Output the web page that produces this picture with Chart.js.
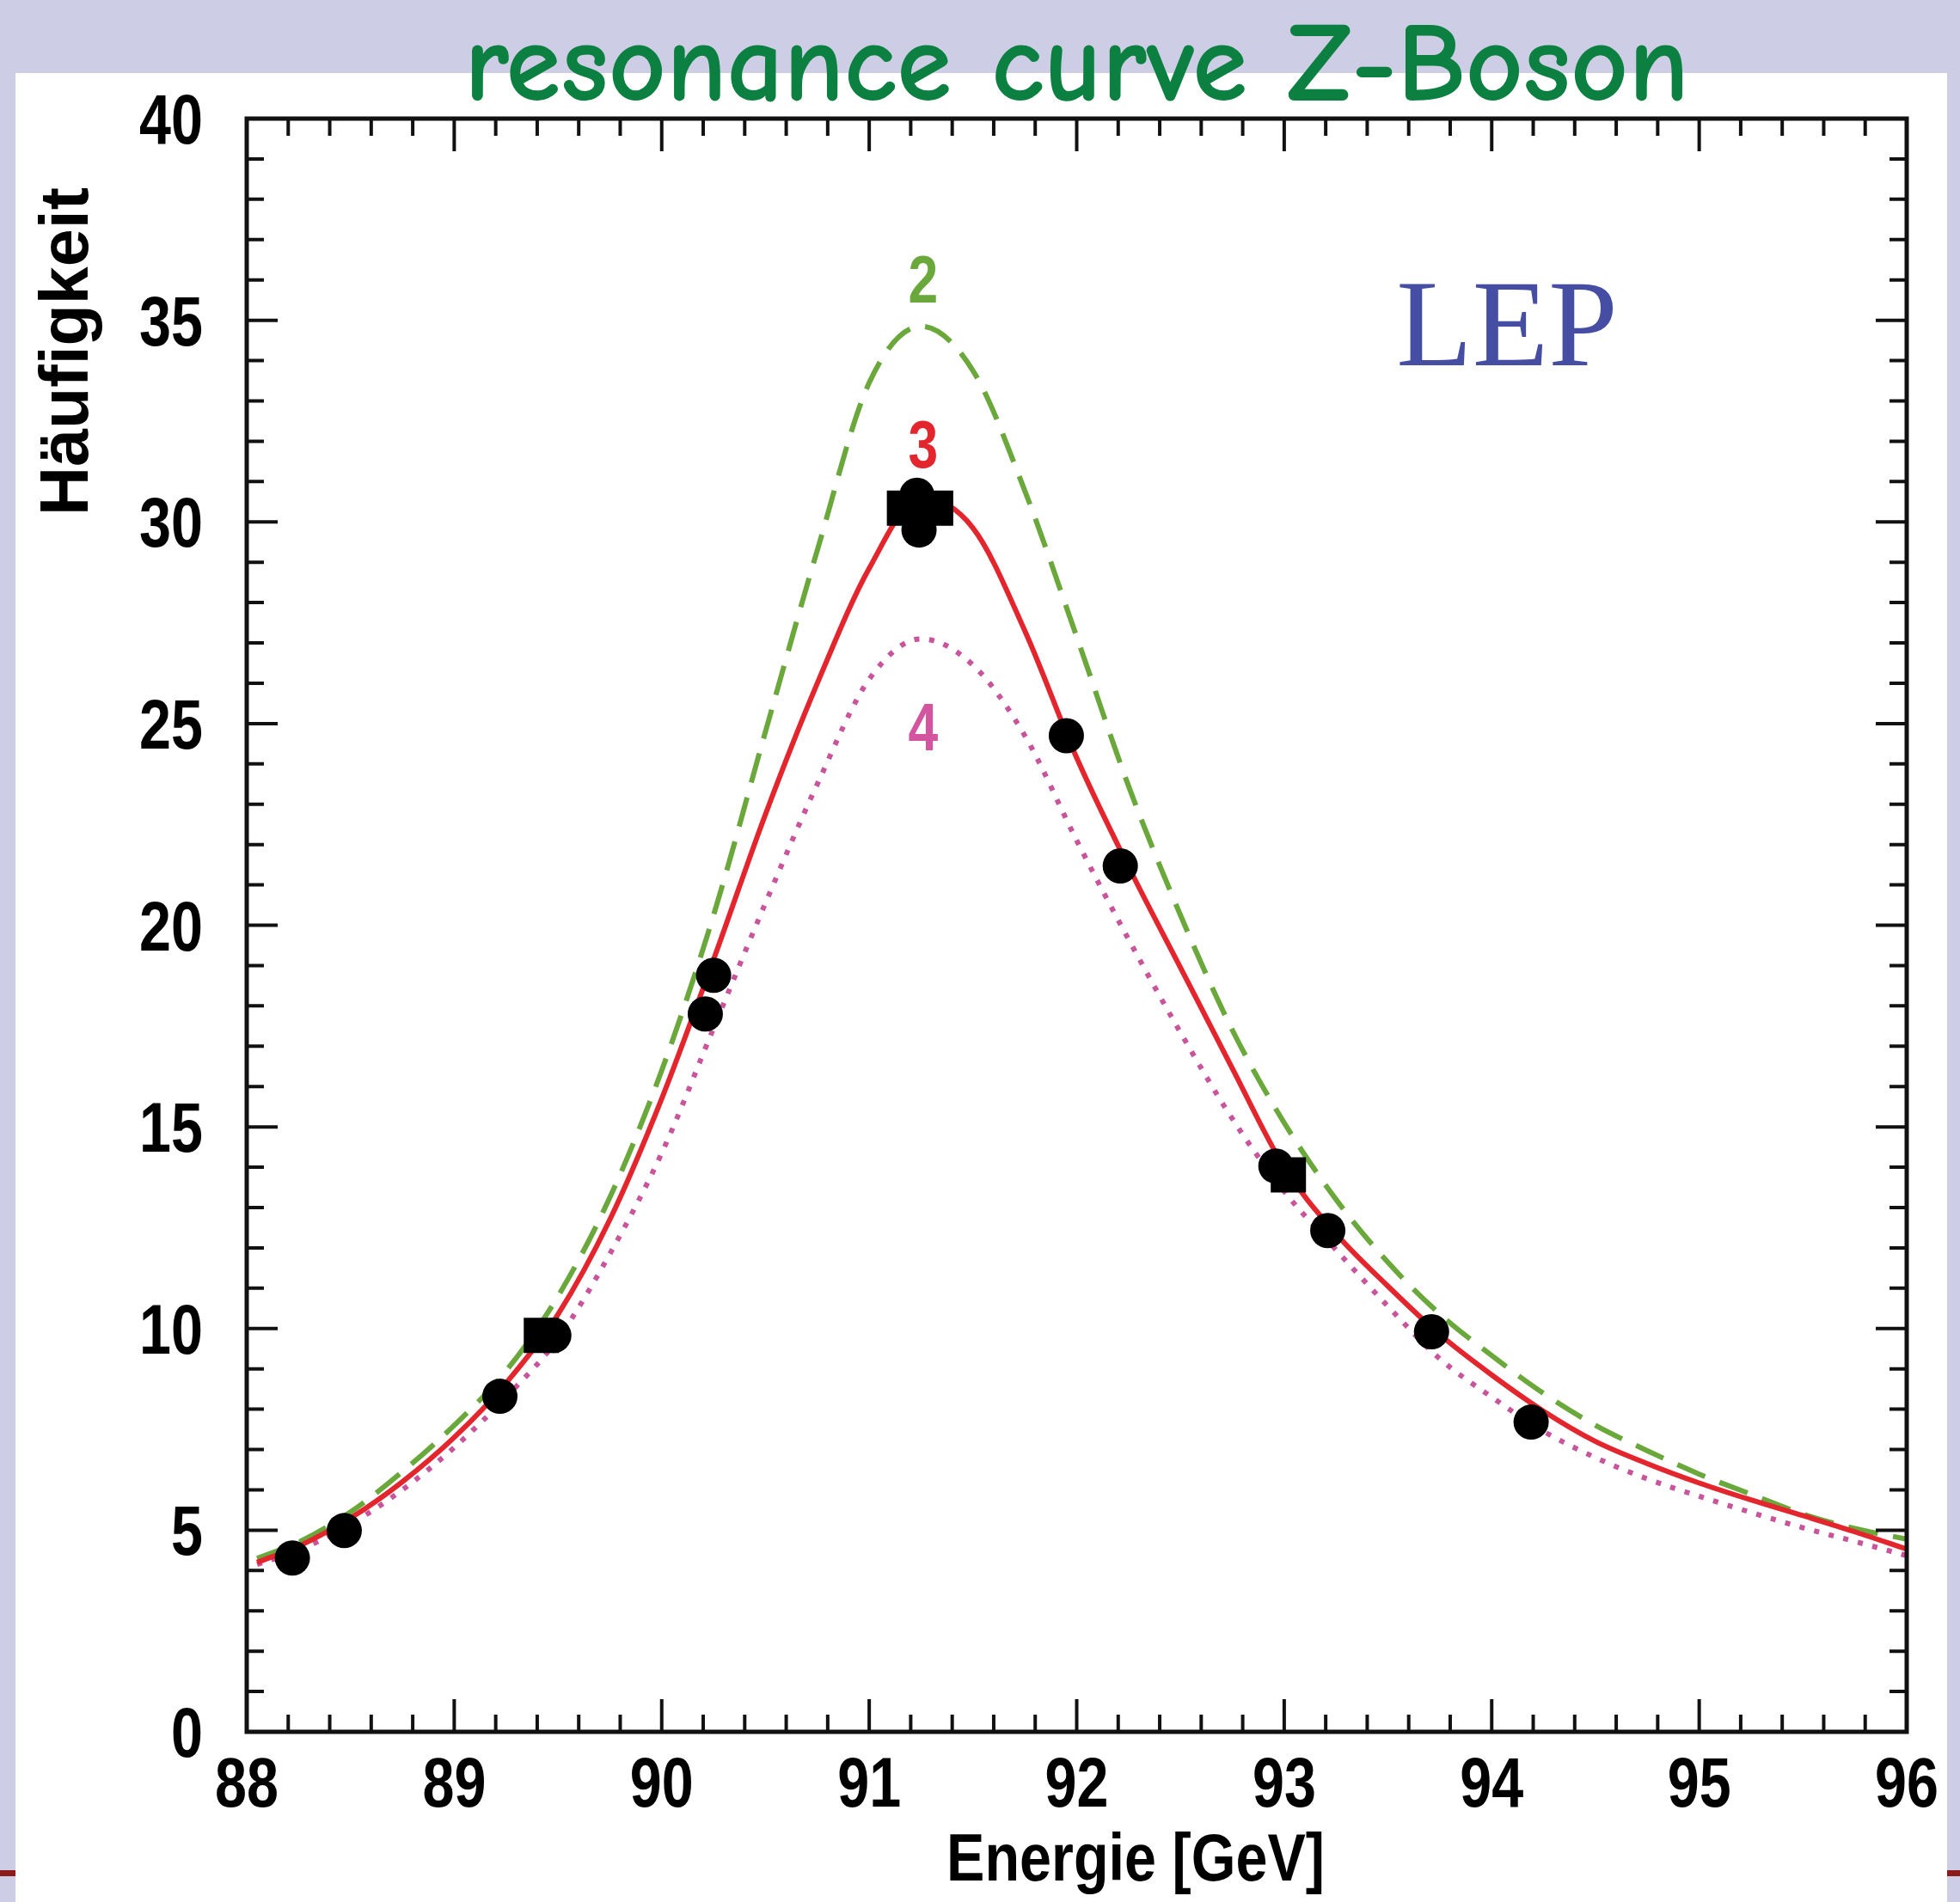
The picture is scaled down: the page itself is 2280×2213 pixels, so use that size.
<!DOCTYPE html>
<html>
<head>
<meta charset="utf-8">
<script src="https://cdn.jsdelivr.net/npm/chart.js@4.4.1/dist/chart.umd.min.js"></script>
<style>
  html, body { margin: 0; padding: 0; }
  body { background: #cdcde6; width: 2280px; height: 2213px; overflow: hidden; position: relative; }
  #rule { position: absolute; left: 0; top: 2176px; width: 2280px; height: 7px; background: #8c1c1c; }
  #panel { position: absolute; left: 18px; top: 85px; width: 2247px; height: 2128px; background: #fff; }
  #chart { position: absolute; left: 0; top: 0; }
</style>
</head>
<body>
<div id="rule"></div>
<div id="panel"></div>
<canvas id="chart" width="2280" height="2213"></canvas>
<script>
// Energie-Stützstellen der Kurven [GeV]
const energy = [88.05, 88.25, 88.5, 88.75, 89, 89.25, 89.5, 89.75, 90, 90.25, 90.5,
    90.75, 91, 91.25, 91.5, 91.75, 92, 92.25, 92.5, 92.75, 93, 93.25,
    93.5, 93.75, 94, 94.25, 94.5, 94.75, 95, 95.25, 95.5, 95.75, 96];

// Kurven für 2, 3 und 4 Neutrinosorten
const nu2 = [4.3, 4.7, 5.45, 6.45, 7.6, 8.95, 10.8, 13.25, 16.4, 20.25, 24.8,
    29.3, 33.45, 34.85, 33.75, 30.77, 27.15, 23.45, 20.25, 17.4, 15.1, 13.2,
    11.64, 10.36, 9.33, 8.39, 7.6, 6.97, 6.39, 5.89, 5.4, 5.04, 4.78];
const nu3 = [4.2, 4.6, 5.3, 6.2, 7.3, 8.65, 10.35, 12.7, 15.7, 19.15, 22.75,
    26.0, 28.85, 30.6, 29.85, 27.3, 24.15, 21.45, 18.95, 16.45, 14.0, 12.35,
    11.05, 9.85, 8.85, 7.95, 7.2, 6.65, 6.17, 5.75, 5.36, 4.96, 4.53];
const nu4 = [4.15, 4.5, 5.15, 6.0, 7.05, 8.3, 9.75, 11.85, 14.35, 17.45, 20.55,
    23.5, 26.1, 27.1, 26.45, 24.7, 22.1, 19.65, 17.34, 15.2, 13.4, 11.95,
    10.55, 9.25, 8.3, 7.45, 6.8, 6.27, 5.84, 5.44, 5.06, 4.72, 4.37];

// Messpunkte (Kreise und Quadrate)
const circleE = [88.22, 88.47, 89.22, 89.48, 90.21, 90.25, 91.23, 91.24, 91.95, 92.21, 92.96, 93.21, 93.71, 94.19];
const circleN = [4.31, 4.99, 8.32, 9.83, 17.80, 18.76, 30.66, 29.80, 24.70, 21.47, 14.03, 12.43, 9.92, 7.68];
const squareE = [89.42, 91.17, 91.32, 93.02];
const squareN = [9.83, 30.34, 30.34, 13.81];

const toPoints = (xs, ys) => xs.map((x, i) => ({ x: x, y: ys[i] }));

const sans = "'Liberation Sans', Arial, sans-serif";

// schmale Schrift: horizontal gestauchter Text
const drawNarrow = (ctx, text, x, y, sx) => {
    ctx.save();
    ctx.translate(x, y);
    ctx.scale(sx, 1);
    ctx.fillText(text, 0, 0);
    ctx.restore();
};

// Rahmen, nach innen zeigende Ticks und Beschriftungen
const frame = {
    id: 'frame',
    afterDraw(chart) {
        const { ctx, chartArea: a, scales: { x, y } } = chart;
        ctx.save();
        ctx.strokeStyle = '#111';
        ctx.lineWidth = 5;
        ctx.strokeRect(a.left, a.top, a.right - a.left, a.bottom - a.top);

        ctx.lineWidth = 4;
        ctx.beginPath();
        for (let i = 0; i <= 40; i++) {
            const px = x.getPixelForValue(88 + i * 0.2);
            const len = i % 5 === 0 ? 38 : 20;
            ctx.moveTo(px, a.bottom); ctx.lineTo(px, a.bottom - len);
            ctx.moveTo(px, a.top); ctx.lineTo(px, a.top + len);
        }
        for (let v = 0; v <= 40; v++) {
            const py = y.getPixelForValue(v);
            const len = v % 5 === 0 ? 36 : 20;
            ctx.moveTo(a.left, py); ctx.lineTo(a.left + len, py);
            ctx.moveTo(a.right, py); ctx.lineTo(a.right - len, py);
        }
        ctx.stroke();

        // Tick-Beschriftungen
        ctx.fillStyle = '#000';
        ctx.font = 'bold 81px ' + sans;
        ctx.textBaseline = 'alphabetic';
        ctx.textAlign = 'center';
        x.ticks.forEach(t => drawNarrow(ctx, t.label, x.getPixelForValue(t.value), a.bottom + 87, 0.82));
        ctx.textAlign = 'right';
        y.ticks.forEach(t => drawNarrow(ctx, t.label, a.left - 51, y.getPixelForValue(t.value) + 29, 0.82));

        // Achsentitel
        ctx.textAlign = 'left';
        ctx.font = 'bold 78px ' + sans;
        drawNarrow(ctx, 'Energie [GeV]', a.left + 814, a.bottom + 173, 0.853);

        ctx.save();
        ctx.translate(102, a.top + 80);
        ctx.rotate(-Math.PI / 2);
        ctx.font = 'bold 79px ' + sans;
        ctx.textAlign = 'right';
        ctx.fillText('Häufigkeit', 0, 0);
        ctx.restore();

        // Kurvennummern
        ctx.textAlign = 'center';
        ctx.font = 'bold 78px ' + sans;
        ctx.fillStyle = '#6aa83c';
        drawNarrow(ctx, '2', x.getPixelForValue(91.26), y.getPixelForValue(35.44), 0.8);
        ctx.fillStyle = '#e3262d';
        drawNarrow(ctx, '3', x.getPixelForValue(91.26), y.getPixelForValue(31.34), 0.8);
        ctx.fillStyle = '#d4559f';
        drawNarrow(ctx, '4', x.getPixelForValue(91.26), y.getPixelForValue(24.33), 0.8);

        ctx.textAlign = 'left';
        ctx.font = "145px 'Liberation Serif', 'Times New Roman', serif";
        ctx.fillStyle = '#454ea2';
        ctx.fillText('LEP', x.getPixelForValue(93.54), y.getPixelForValue(33.88));
        ctx.restore();
    }
};

Chart.defaults.color = '#000';

new Chart(document.getElementById('chart'), {
    type: 'scatter',
    data: {
        datasets: [
            {
                label: 'Messung',
                data: toPoints(circleE, circleN),
                pointStyle: 'circle',
                pointRadius: 20.5,
                backgroundColor: '#000',
                borderColor: '#000',
                borderWidth: 0,
                order: 0
            },
            {
                label: 'Messung (Quadrat)',
                data: toPoints(squareE, squareN),
                pointStyle: 'rect',
                pointRadius: 29,
                backgroundColor: '#000',
                borderColor: '#000',
                borderWidth: 0,
                order: 0
            },
            {
                label: '3',
                data: toPoints(energy, nu3),
                showLine: true,
                pointRadius: 0,
                borderColor: '#e3262d',
                borderWidth: 6,
                cubicInterpolationMode: 'monotone',
                order: 1
            },
            {
                label: '2',
                data: toPoints(energy, nu2),
                showLine: true,
                pointRadius: 0,
                borderColor: '#6aa83c',
                borderWidth: 6,
                borderDash: [35, 18],
                cubicInterpolationMode: 'monotone',
                order: 2
            },
            {
                label: '4',
                data: toPoints(energy, nu4),
                showLine: true,
                pointRadius: 0,
                borderColor: '#c8559b',
                borderWidth: 6,
                borderDash: [6, 11.5],
                cubicInterpolationMode: 'monotone',
                order: 3
            }
        ]
    },
    options: {
        responsive: false,
        animation: false,
        devicePixelRatio: 1,
        layout: { padding: { left: 0, right: 62, top: 0, bottom: 0 } },
        plugins: {
            legend: { display: false },
            tooltip: { enabled: false },
            title: {
                display: true,
                text: 'resonance curve Z-Boson',
                color: '#0b8040',
                fullSize: false,
                font: { family: "'Comic Sans MS', 'Comic Neue', Lato, sans-serif", size: 130, weight: 600, lineHeight: 1 },
                padding: { top: 14, bottom: -6 }
            }
        },
        scales: {
            x: {
                type: 'linear',
                min: 88,
                max: 96,
                grid: { display: false, drawTicks: false },
                border: { display: false },
                ticks: { stepSize: 1, display: false },
                afterFit: (scale) => { scale.height = 198; }
            },
            y: {
                min: 0,
                max: 40,
                grid: { display: false, drawTicks: false },
                border: { display: false },
                ticks: { stepSize: 5, display: false },
                afterFit: (scale) => { scale.width = 287; }
            }
        }
    },
    plugins: [frame]
});
</script>
</body>
</html>
